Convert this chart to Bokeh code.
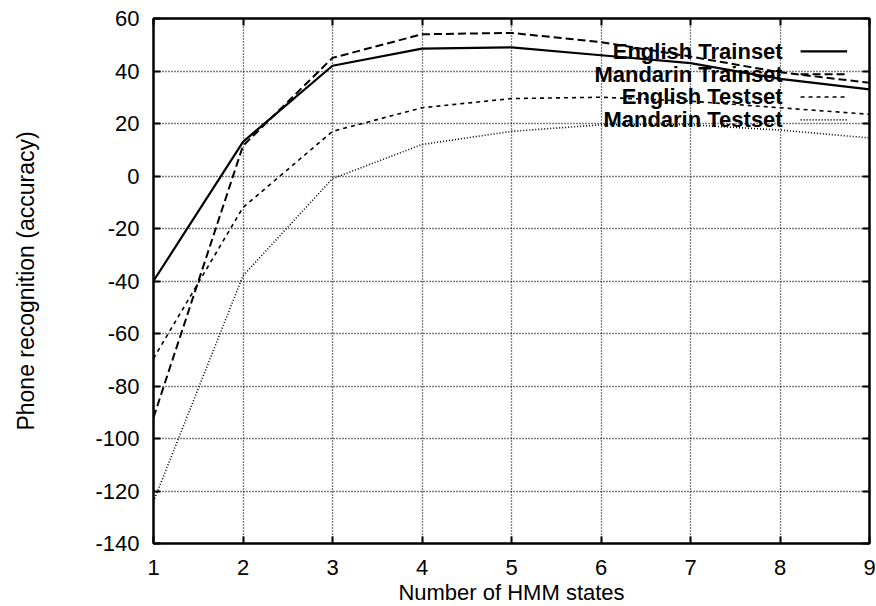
from bokeh.plotting import figure
from bokeh.models import Range1d, LinearAxis, FixedTicker, Label, Title
from bokeh.embed import file_html
from bokeh.resources import INLINE

# Number of HMM states on the x axis
states = [1, 2, 3, 4, 5, 6, 7, 8, 9]

# Phone recognition accuracy per configuration
english_train = [-40, 13, 42, 48.5, 49, 46, 43, 37, 33]
mandarin_train = [-92, 11.5, 45, 54, 54.5, 51, 45.5, 39.5, 35.5]
english_test = [-69.5, -12, 17, 26, 29.5, 30, 28.5, 26, 23.5]
mandarin_test = [-124, -38, -1, 12, 17, 19.5, 19.5, 17.5, 14.5]

series_names = ["English Trainset", "Mandarin Trainset",
                "English Testset", "Mandarin Testset"]

x_ticks = [1, 2, 3, 4, 5, 6, 7, 8, 9]
y_ticks = [-140, -120, -100, -80, -60, -40, -20, 0, 20, 40, 60]

p = figure(width=876, height=606,
           x_range=Range1d(1, 9), y_range=Range1d(-140, 60),
           output_backend="svg", toolbar_location=None,
           min_border_left=153, min_border_right=7,
           min_border_top=18, min_border_bottom=63)

p.background_fill_color = "white"
p.border_fill_color = "white"
p.outline_line_color = "black"
p.outline_line_width = 2

# axes: inward ticks, plain labels
for ax, ticks in ((p.xaxis[0], x_ticks), (p.yaxis[0], y_ticks)):
    ax.ticker = FixedTicker(ticks=ticks)
    ax.major_label_overrides = {t: str(t) for t in ticks}
    ax.minor_tick_line_color = None
    ax.major_tick_in = 7
    ax.major_tick_out = 0
    ax.major_tick_line_width = 2
    ax.axis_line_width = 2
    ax.major_label_text_font = "Liberation Sans"
    ax.major_label_text_font_size = "22px"
    ax.major_label_text_color = "black"

p.yaxis[0].major_label_standoff = 14
p.xaxis[0].major_label_standoff = 16
p.xaxis[0].major_label_text_line_height = 1.0
p.yaxis[0].axis_label = "Phone recognition (accuracy)"
p.yaxis[0].axis_label_text_font = "Liberation Sans"
p.yaxis[0].axis_label_text_font_size = "23px"
p.yaxis[0].axis_label_text_font_style = "normal"
p.yaxis[0].axis_label_text_color = "black"
p.yaxis[0].axis_label_standoff = 53

# mirrored ticks on right and top borders (no labels)
for side, ticks in (("right", y_ticks), ("above", x_ticks)):
    ax = LinearAxis(ticker=FixedTicker(ticks=ticks))
    ax.minor_tick_line_color = None
    ax.major_tick_in = 7
    ax.major_tick_out = 0
    ax.major_tick_line_width = 2
    ax.axis_line_width = 2
    ax.major_label_text_font_size = "1px"
    ax.major_label_text_color = None
    ax.major_label_text_alpha = 0
    ax.major_label_standoff = 0
    p.add_layout(ax, side)

# dotted grid
for g, ticks in ((p.xgrid[0], x_ticks), (p.ygrid[0], y_ticks)):
    g.ticker = FixedTicker(ticks=ticks)
    g.grid_line_color = "black"
    g.grid_line_dash = "1 2"
    g.grid_line_width = 1.3
    g.grid_line_alpha = 1.0

styles = [
    dict(line_dash="solid", line_width=2.2),
    dict(line_dash="8 4", line_width=2.0),
    dict(line_dash="4 4", line_width=1.6),
    dict(line_dash="1 2", line_width=1.6),
]
series = [english_train, mandarin_train, english_test, mandarin_test]

for ys, st in zip(series, styles):
    p.line(states, ys, line_color="black", **st)

# key in the upper right: right-aligned text followed by a line sample
key_rows = [47.5, 38.8, 30.1, 21.4]
for name, row, st in zip(series_names, key_rows, styles):
    p.add_layout(Label(x=8.03, y=row, text=name, text_align="right",
                       text_baseline="middle", text_font="Liberation Sans",
                       text_font_size="22px", text_font_style="bold",
                       text_color="black"))
    p.segment(x0=[8.23], y0=[row], x1=[8.75], y1=[row],
              line_color="black", **st)

# x axis title, shifted slightly left of the frame centre
p.add_layout(Title(text="Number of HMM states", align="center", offset=-21,
                   standoff=0, text_font="Liberation Sans",
                   text_font_size="22px", text_font_style="normal",
                   text_color="black", text_line_height=1.0), "below")

open("out.html", "w").write(file_html(p, INLINE))
